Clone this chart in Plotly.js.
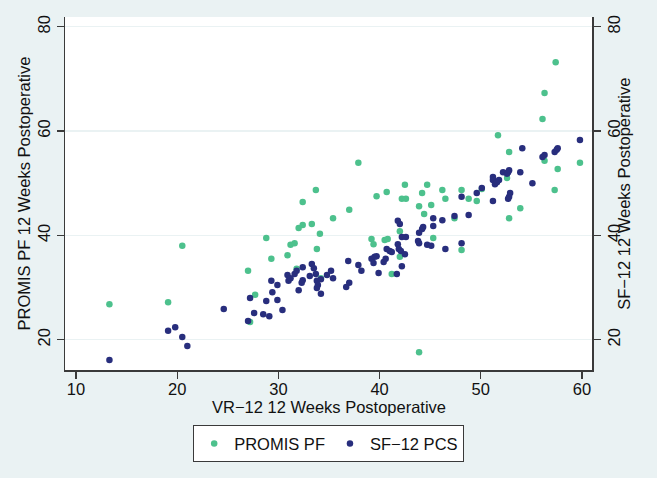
<!DOCTYPE html>
<html>
<head>
<meta charset="utf-8">
<script src="https://cdn.plot.ly/plotly-3.0.1.min.js"></script>
<style>html,body{margin:0;padding:0;background:#EAF2F3;}#chart{width:657px;height:478px;}</style>
</head>
<body>
<div id="chart"></div>
<script>
// PROMIS PF (left axis) vs VR-12
const promisX = [13.3,19.1,20.5,27.0,27.7,27.2,28.8,29.3,30.9,31.2,31.6,31.8,32.0,32.4,32.4,33.3,33.7,33.8,34.1,34.2,35.4,37.0,37.9,39.2,39.4,39.7,40.5,40.8,40.7,41.2,42.0,42.0,42.2,42.5,42.6,43.9,43.9,44.2,44.4,44.7,45.1,45.3,46.2,46.5,47.4,48.1,48.1,48.8,49.6,50.1,51.7,52.6,52.8,52.8,53.9,56.1,56.3,56.3,57.3,57.4,57.6,59.8];
const promisY = [26.8,27.2,38.0,33.2,28.6,23.4,39.5,35.5,36.2,38.2,38.5,33.6,41.4,42.0,46.4,42.2,48.7,37.4,40.3,31.8,43.3,44.9,53.9,39.3,38.3,47.5,39.1,39.3,48.3,32.6,40.8,35.9,47.0,49.7,47.0,45.6,17.6,48.1,44.1,49.7,45.8,39.5,48.7,47.0,43.3,48.7,37.2,47.0,46.6,48.9,59.2,51.0,56.0,43.3,45.2,62.3,67.3,54.3,48.7,73.2,52.7,53.9];
// SF-12 PCS (right axis) vs VR-12
const sf12X = [13.3,19.1,19.8,20.5,21.0,24.6,27.0,27.2,27.6,28.5,28.8,29.1,29.3,29.4,29.9,29.9,30.4,30.9,31.0,31.2,31.6,31.8,32.0,32.4,32.4,32.3,33.1,33.3,33.5,33.7,33.8,33.9,33.8,34.2,34.2,34.8,35.2,35.4,36.7,37.0,36.9,37.9,38.2,39.2,39.5,39.7,39.4,39.9,40.4,40.6,40.7,41.0,41.2,41.8,41.9,42.1,42.5,42.2,41.7,41.8,42.0,42.2,42.6,43.8,43.9,43.9,44.2,44.3,44.7,45.1,45.3,45.3,46.2,46.5,47.4,48.1,48.1,48.8,49.6,50.1,51.2,51.2,51.4,51.6,51.8,51.2,52.2,52.6,52.7,52.8,52.7,52.8,52.9,53.9,54.1,55.1,56.1,56.3,57.3,57.5,57.6,59.8];
const sf12Y = [16.1,21.7,22.4,20.5,18.8,25.9,23.6,28.0,25.1,24.9,27.4,24.5,31.3,29.1,30.5,27.6,25.7,32.4,31.3,31.8,32.6,33.2,29.5,33.9,31.4,30.9,32.2,34.5,33.7,32.6,31.3,30.5,29.9,31.6,28.8,32.4,33.2,31.8,30.1,30.9,35.1,34.3,33.2,35.5,35.9,36.0,34.7,32.8,34.9,35.5,37.4,37.0,36.8,38.3,37.4,37.0,36.4,34.1,32.6,42.8,42.2,39.7,39.7,38.9,38.5,40.5,41.2,41.6,38.2,38.0,43.3,41.8,42.9,37.4,43.7,38.5,47.4,43.9,48.1,49.1,51.2,50.6,49.8,50.2,50.6,46.6,52.1,51.8,52.1,52.5,47.0,47.4,48.1,52.1,56.7,50.0,55.0,55.4,56.0,56.4,56.7,58.3];

const xTicks = [10,20,30,40,50,60];
const yTicks = [20,40,60,80];
const xTitle = "VR\u221212 12 Weeks Postoperative";
const yTitle = "PROMIS PF 12 Weeks Postoperative";
const y2Title = "SF\u221212 12 Weeks Postoperative";
const names = ["PROMIS PF", "SF\u221212 PCS"];

const green = "#4DC18D";
const navy = "#282E7D";
const bg = "#EAF2F3";
const axisCol = "#3a3a3a";
const fontFam = "Liberation Sans, Arial, sans-serif";
const titleFont = {family: fontFam, size: 16.5, color: "#111"};

const traces = [
  {x: promisX, y: promisY, type: "scatter", mode: "markers", name: names[0],
   marker: {color: green, size: 6.5}, yaxis: "y"},
  {x: sf12X, y: sf12Y, type: "scatter", mode: "markers", name: names[1],
   marker: {color: navy, size: 6.5}, yaxis: "y2"}
];

const yCommon = {
  range: [14.19, 81.86], tickvals: yTicks, ticktext: yTicks.map(String),
  tickangle: -90, ticks: "outside", ticklen: 7, tickwidth: 1.3, tickcolor: axisCol,
  showline: true, linecolor: axisCol, linewidth: 1.5,
  zeroline: false, automargin: false,
  tickfont: titleFont
};

const layout = {
  width: 657, height: 478,
  paper_bgcolor: bg, plot_bgcolor: "#ffffff",
  margin: {l: 65, r: 65, t: 17, b: 108},
  font: titleFont,
  showlegend: true,
  legend: {orientation: "h", x: 0.5, xanchor: "center", y: -0.156, yanchor: "top",
    bgcolor: "#ffffff", bordercolor: axisCol, borderwidth: 1.2,
    font: titleFont},
  xaxis: {
    range: [8.91, 60.99], tickvals: xTicks, ticktext: xTicks.map(String),
    ticks: "outside", ticklen: 7, tickwidth: 1.3, tickcolor: axisCol,
    ticklabelstandoff: -3,
    showline: true, linecolor: axisCol, linewidth: 1.5,
    showgrid: false, zeroline: false, automargin: false,
    tickfont: titleFont
  },
  yaxis: Object.assign({}, yCommon, {
    side: "left", showgrid: true, gridcolor: bg, gridwidth: 1.5
  }),
  yaxis2: Object.assign({}, yCommon, {
    side: "right", overlaying: "y", showgrid: false
  }),
  annotations: [
    {text: xTitle, xref: "paper", yref: "paper", x: 0.5, y: -0.104,
     xanchor: "center", yanchor: "middle", showarrow: false, font: titleFont},
    {text: yTitle, xref: "paper", yref: "paper", x: -0.0778, y: 0.5, textangle: -90,
     xanchor: "center", yanchor: "middle", showarrow: false, font: titleFont},
    {text: y2Title, xref: "paper", yref: "paper", x: 1.0595, y: 0.5, textangle: -90,
     xanchor: "center", yanchor: "middle", showarrow: false, font: titleFont}
  ]
};

Plotly.newPlot("chart", traces, layout, {displayModeBar: false, staticPlot: true});
</script>
</body>
</html>
